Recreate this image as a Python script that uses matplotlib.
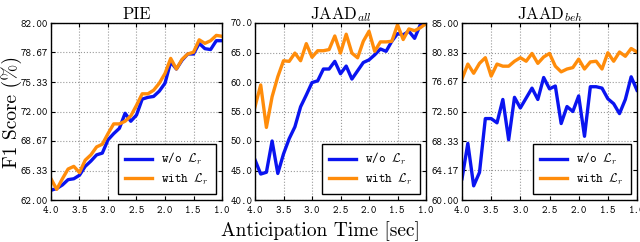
import numpy as np
import matplotlib
matplotlib.use("Agg")
import matplotlib.pyplot as plt
from matplotlib.ticker import FormatStrFormatter

plt.rcParams['mathtext.fontset'] = 'cm'
plt.rcParams['axes.unicode_minus'] = False

times = [4.0, 3.9, 3.8, 3.7, 3.6, 3.5, 3.4, 3.3, 3.2, 3.1, 3.0, 2.9, 2.8, 2.7, 2.6, 2.5,
         2.4, 2.3, 2.2, 2.1, 2.0, 1.9, 1.8, 1.7, 1.6, 1.5, 1.4, 1.3, 1.2, 1.1, 1.0]

pie_wo = [63.1, 63.3, 63.7, 64.3, 64.4, 64.8, 65.8, 66.4, 67.1, 67.3, 68.8, 69.5, 70.1, 71.8, 70.9, 71.6,
          73.4, 73.6, 73.7, 74.3, 75.2, 77.6, 76.8, 77.8, 78.5, 78.5, 79.7, 79.1, 79.0, 80.0, 80.0]
pie_with = [64.4, 63.2, 64.4, 65.5, 65.8, 65.1, 66.5, 67.1, 68.0, 68.3, 69.5, 70.6, 70.6, 70.9, 71.5, 72.7,
            74.0, 74.0, 74.4, 75.2, 76.3, 78.0, 76.8, 77.9, 78.5, 78.7, 80.1, 79.7, 80.0, 80.6, 80.5]

all_wo = [46.8, 44.4, 44.7, 50.0, 44.5, 47.8, 50.4, 52.4, 55.8, 57.8, 59.9, 60.2, 62.2, 62.2, 63.5, 61.4,
          62.7, 60.5, 61.9, 63.3, 63.75, 64.6, 65.6, 65.2, 66.9, 68.2, 68.0, 68.6, 67.4, 69.7, 70.0]
all_with = [55.8, 59.5, 52.3, 57.5, 60.9, 63.6, 63.5, 64.9, 63.6, 66.5, 64.2, 65.3, 65.3, 65.5, 67.8, 64.9,
            68.1, 64.9, 64.1, 66.9, 68.6, 65.2, 66.8, 66.8, 66.9, 69.7, 67.2, 69.0, 68.7, 69.2, 69.9]

beh_wo = [63.0, 68.0, 62.0, 63.9, 71.5, 71.5, 70.9, 74.2, 68.5, 74.5, 73.0, 74.4, 75.8, 74.2, 77.3, 75.7,
          76.1, 70.8, 73.2, 72.5, 74.7, 69.0, 76.0, 76.0, 75.8, 74.3, 73.6, 72.2, 74.2, 77.4, 75.5]
beh_with = [77.1, 79.2, 77.9, 79.3, 80.1, 77.5, 79.2, 78.9, 78.9, 79.6, 80.1, 79.6, 80.7, 79.3, 80.2, 80.7,
            78.9, 78.1, 78.5, 78.7, 79.9, 78.5, 79.5, 79.6, 78.5, 80.8, 79.6, 80.9, 80.3, 81.4, 80.9]

titles = ['PIE', r'JAAD$_{all}$', r'JAAD$_{beh}$']
yticks_list = [[62.00, 65.33, 68.67, 72.00, 75.33, 78.67, 82.00],
               [40.0, 45.0, 50.0, 55.0, 60.0, 65.0, 70.0],
               [60.00, 64.17, 68.33, 72.50, 76.67, 80.83, 85.00]]
yfmts = ['%.2f', '%.1f', '%.2f']
xticks = [4.0, 3.5, 3.0, 2.5, 2.0, 1.5, 1.0]
labels = [r'w/o $\mathcal{L}_r$', r'with $\mathcal{L}_r$']
series = [(pie_wo, pie_with), (all_wo, all_with), (beh_wo, beh_with)]

W, H = 640, 242
fig = plt.figure(figsize=(6.4, 2.42), dpi=100)
boxes = [(51, 222), (255, 426), (462, 637)]
top, bot = 23, 200

for i, ((l, r), (wo, wi)) in enumerate(zip(boxes, series)):
    ax = fig.add_axes([l / W, 1 - bot / H, (r - l) / W, (bot - top) / H])
    ax.plot(times, wo, color='#0a14f0', lw=2.4, label=labels[0])
    ax.plot(times, wi, color='#ff8c0a', lw=2.4, label=labels[1])
    ax.set_xlim(4.0, 1.0)
    yt = yticks_list[i]
    ax.set_ylim(yt[0], yt[-1])
    ax.set_yticks(yt)
    ax.set_xticks(xticks)
    ax.yaxis.set_major_formatter(FormatStrFormatter(yfmts[i]))
    ax.xaxis.set_major_formatter(FormatStrFormatter('%.1f'))
    for t in ax.get_xticklabels() + ax.get_yticklabels():
        t.set_fontfamily('cmtt10')
        t.set_fontsize(7.5)
        t.set_fontweight('bold')
    ax.tick_params(direction='in', top=True, right=True, length=3, width=0.8, pad=2)
    ax.tick_params(axis='x', pad=4)
    ax.grid(True, linestyle=':', color='#999999', lw=0.8)
    for s in ax.spines.values():
        s.set_linewidth(1.0)
    ax.set_title(titles[i], fontfamily='cmr10', fontsize=12, pad=3)
    leg = ax.legend(loc='lower right', fancybox=False, edgecolor='black', framealpha=1,
                    prop=dict(family='cmtt10', size=9), handlelength=2.2, handletextpad=0.7,
                    borderaxespad=0.5, labelspacing=0.35, borderpad=0.55)
    leg.get_frame().set_linewidth(1.0)

fig.text(12 / W, 1 - 112 / H, 'F1 Score (%)', rotation=90, ha='center', va='center',
         fontfamily='cmr10', fontsize=14)
fig.text(0.5, 1 - 231 / H, 'Anticipation Time [sec]', ha='center', va='center',
         fontfamily='cmr10', fontsize=14)

fig.savefig('out.png', dpi=100)
